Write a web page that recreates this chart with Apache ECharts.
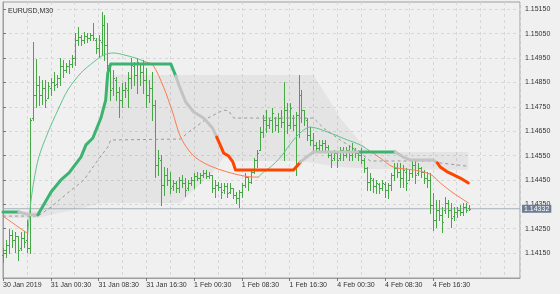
<!DOCTYPE html>
<html><head><meta charset="utf-8">
<script src="https://cdn.jsdelivr.net/npm/echarts@6/dist/echarts.min.js"></script>
<style>html,body{margin:0;padding:0;background:#f0f0f0;}#c{width:560px;height:294px;}</style>
</head><body><div id="c"></div>
<script>
// ---------- data ----------
const symbolLabel = 'EURUSD,M30';
const timeLabelBars = [0, 16, 32, 48, 64, 80, 96, 112, 128, 144];
const timeLabels = ['30 Jan 2019', '31 Jan 00:30', '31 Jan 08:30', '31 Jan 16:30', '1 Feb 00:30',
  '1 Feb 08:30', '1 Feb 16:30', '4 Feb 00:30', '4 Feb 08:30', '4 Feb 16:30'];
const priceTicks = [1.14150, 1.14250, 1.14350, 1.14450, 1.14550, 1.14650, 1.14750, 1.14850, 1.14950, 1.15050, 1.15150];
const lastPrice = 1.14332;

const high = [
  1.14171,1.14204,1.14249,1.14245,1.14237,1.14220,1.14237,1.14241,1.14286,1.14704,
  1.15016,1.14946,1.14876,1.14860,1.14860,1.14852,1.14868,1.14893,1.14881,1.14950,
  1.14942,1.14930,1.14942,1.14963,1.15053,1.15077,1.15045,1.15057,1.15053,1.15053,
  1.15094,1.15032,1.15045,1.15139,1.15127,1.15094,1.14930,1.14901,1.14872,1.14831,
  1.14848,1.14852,1.14893,1.14950,1.14934,1.14950,1.14930,1.14942,1.14909,1.14860,
  1.14893,1.14778,1.14573,1.14553,1.14503,1.14499,1.14483,1.14450,1.14446,1.14462,
  1.14471,1.14458,1.14450,1.14462,1.14479,1.14483,1.14479,1.14491,1.14491,1.14483,
  1.14471,1.14450,1.14442,1.14438,1.14438,1.14438,1.14438,1.14417,1.14401,1.14409,
  1.14438,1.14479,1.14462,1.14491,1.14540,1.14573,1.14667,1.14717,1.14737,1.14704,
  1.14745,1.14708,1.14725,1.14737,1.14852,1.14766,1.14766,1.14717,1.14729,1.14881,
  1.14819,1.14737,1.14704,1.14667,1.14643,1.14606,1.14614,1.14614,1.14614,1.14594,
  1.14561,1.14573,1.14561,1.14585,1.14585,1.14585,1.14594,1.14602,1.14581,1.14573,
  1.14581,1.14540,1.14503,1.14479,1.14458,1.14450,1.14438,1.14450,1.14442,1.14438,
  1.14479,1.14520,1.14520,1.14520,1.14512,1.14499,1.14491,1.14532,1.14532,1.14520,
  1.14503,1.14491,1.14483,1.14479,1.14397,1.14368,1.14368,1.14339,1.14380,1.14368,
  1.14356,1.14339,1.14339,1.14348,1.14356,1.14356,1.14348];
const low = [
  1.14114,1.14134,1.14151,1.14175,1.14155,1.14122,1.14163,1.14175,1.14155,1.14151,
  1.14696,1.14749,1.14758,1.14762,1.14749,1.14786,1.14799,1.14819,1.14831,1.14840,
  1.14872,1.14893,1.14889,1.14913,1.14922,1.15004,1.15004,1.15012,1.15016,1.15024,
  1.15024,1.14971,1.14954,1.14963,1.14942,1.14889,1.14778,1.14799,1.14778,1.14708,
  1.14749,1.14790,1.14749,1.14827,1.14840,1.14807,1.14840,1.14807,1.14749,1.14770,
  1.14696,1.14462,1.14471,1.14348,1.14389,1.14430,1.14397,1.14409,1.14401,1.14401,
  1.14421,1.14384,1.14409,1.14430,1.14417,1.14450,1.14438,1.14462,1.14458,1.14458,
  1.14401,1.14380,1.14409,1.14376,1.14397,1.14380,1.14397,1.14376,1.14356,1.14339,
  1.14380,1.14421,1.14409,1.14438,1.14479,1.14503,1.14573,1.14626,1.14647,1.14663,
  1.14647,1.14655,1.14647,1.14667,1.14532,1.14643,1.14663,1.14655,1.14471,1.14626,
  1.14688,1.14676,1.14614,1.14594,1.14561,1.14573,1.14565,1.14573,1.14573,1.14544,
  1.14503,1.14532,1.14503,1.14532,1.14532,1.14544,1.14532,1.14532,1.14544,1.14532,
  1.14520,1.14483,1.14409,1.14409,1.14401,1.14397,1.14397,1.14409,1.14380,1.14376,
  1.14409,1.14450,1.14462,1.14421,1.14421,1.14409,1.14450,1.14462,1.14438,1.14471,
  1.14462,1.14438,1.14421,1.14315,1.14245,1.14257,1.14286,1.14237,1.14315,1.14298,
  1.14257,1.14286,1.14298,1.14307,1.14307,1.14319,1.14327];
const open = [
  1.14143,1.14163,1.14184,1.14225,1.14204,1.14220,1.14171,1.14212,1.14204,1.14171,
  1.14704,1.14799,1.14840,1.14799,1.14827,1.14786,1.14827,1.14852,1.14844,1.14868,
  1.14917,1.14901,1.14917,1.14926,1.14950,1.15024,1.15036,1.15024,1.15040,1.15032,
  1.15045,1.15024,1.14991,1.15016,1.15086,1.15004,1.14922,1.14827,1.14860,1.14811,
  1.14778,1.14819,1.14819,1.14868,1.14917,1.14881,1.14926,1.14893,1.14860,1.14799,
  1.14827,1.14758,1.14512,1.14532,1.14430,1.14471,1.14450,1.14425,1.14438,1.14417,
  1.14450,1.14438,1.14417,1.14438,1.14450,1.14466,1.14458,1.14471,1.14479,1.14466,
  1.14471,1.14417,1.14430,1.14421,1.14409,1.14425,1.14401,1.14417,1.14389,1.14376,
  1.14401,1.14430,1.14462,1.14442,1.14483,1.14532,1.14573,1.14647,1.14696,1.14676,
  1.14696,1.14704,1.14676,1.14704,1.14688,1.14737,1.14676,1.14704,1.14676,1.14717,
  1.14799,1.14737,1.14696,1.14635,1.14614,1.14594,1.14581,1.14594,1.14602,1.14585,
  1.14553,1.14540,1.14561,1.14540,1.14573,1.14553,1.14573,1.14553,1.14573,1.14561,
  1.14553,1.14532,1.14499,1.14442,1.14450,1.14425,1.14434,1.14417,1.14434,1.14409,
  1.14430,1.14471,1.14499,1.14483,1.14458,1.14483,1.14450,1.14479,1.14512,1.14479,
  1.14499,1.14483,1.14458,1.14450,1.14348,1.14286,1.14327,1.14307,1.14327,1.14356,
  1.14327,1.14302,1.14319,1.14327,1.14319,1.14339,1.14335];
const close = [
  1.14163,1.14184,1.14225,1.14204,1.14220,1.14163,1.14212,1.14196,1.14171,1.14696,
  1.14799,1.14840,1.14799,1.14827,1.14778,1.14835,1.14852,1.14840,1.14868,1.14917,
  1.14901,1.14917,1.14926,1.14950,1.15024,1.15036,1.15024,1.15040,1.15032,1.15045,
  1.15032,1.14991,1.15024,1.15086,1.15004,1.14922,1.14819,1.14868,1.14811,1.14778,
  1.14819,1.14827,1.14868,1.14922,1.14881,1.14934,1.14893,1.14860,1.14799,1.14827,
  1.14758,1.14512,1.14540,1.14430,1.14471,1.14450,1.14417,1.14438,1.14417,1.14450,
  1.14438,1.14409,1.14438,1.14450,1.14466,1.14458,1.14471,1.14479,1.14466,1.14471,
  1.14417,1.14430,1.14421,1.14401,1.14425,1.14397,1.14417,1.14389,1.14376,1.14401,
  1.14430,1.14462,1.14442,1.14483,1.14532,1.14561,1.14647,1.14696,1.14676,1.14696,
  1.14725,1.14676,1.14704,1.14688,1.14737,1.14676,1.14745,1.14676,1.14717,1.14799,
  1.14737,1.14704,1.14635,1.14614,1.14594,1.14581,1.14594,1.14602,1.14585,1.14553,
  1.14532,1.14561,1.14532,1.14573,1.14553,1.14573,1.14553,1.14581,1.14561,1.14553,
  1.14532,1.14499,1.14442,1.14458,1.14425,1.14438,1.14417,1.14438,1.14409,1.14430,
  1.14471,1.14499,1.14483,1.14458,1.14491,1.14438,1.14479,1.14512,1.14471,1.14499,
  1.14483,1.14458,1.14450,1.14348,1.14286,1.14327,1.14307,1.14278,1.14356,1.14327,
  1.14294,1.14319,1.14327,1.14319,1.14339,1.14327,1.14332];

// thin moving average: [bar, price] pieces, falling (orange) / rising (green)
const maFalling1 = [[0,1.14302],[7.5,1.14237],[8.3,1.14233]];
const maRising1 = [[8.3,1.14233],[9.4,1.14368],[10.4,1.14450],[12,1.14544],[15,1.14643],[18.4,1.14737],
  [21.7,1.14819],[26.1,1.14889],[30.4,1.14934],[33.8,1.14963],[37.1,1.14971],[40.5,1.14963],[44.5,1.14950],[47.8,1.14934]];
const maFalling2 = [[47.8,1.14934],[50.2,1.14922],[53.8,1.14831],[56.9,1.14725],[59.5,1.14626],[63.5,1.14553],
  [68.6,1.14512],[76.3,1.14479],[83.9,1.14462],[85.6,1.14462]];
const maRising2 = [[85.6,1.14462],[87.3,1.14483],[89.6,1.14503],[93,1.14544],[97.3,1.14614],[100.7,1.14655],
  [103,1.14667],[108.7,1.14647],[115.4,1.14614],[119.7,1.14594],[122.4,1.14573]];
const maFalling3 = [[122.4,1.14573],[126.4,1.14540],[130.8,1.14503],[137.5,1.14491],[142.1,1.14479],
  [144.1,1.14466],[146.5,1.14438],[150.8,1.14397],[155.9,1.14356]];

// thick trend line pieces
const trendUp1 = [[0,1.14319],[5.3,1.14319]];
const trendFlat1 = [[5.3,1.14319],[8.7,1.14307],[11.7,1.14307]];
const trendUp2 = [[11.7,1.14307],[16.1,1.14401],[19.4,1.14450],[22.1,1.14479],[26.1,1.14544],[27.8,1.14594],
  [30.1,1.14622],[32.8,1.14704],[34.4,1.14778],[35.1,1.14889],[36.1,1.14926],[56.2,1.14926],[57.9,1.14876]];
const trendFlat2 = [[57.9,1.14876],[58.9,1.14840],[61.2,1.14770],[63.9,1.14729],[67.2,1.14704],[70.2,1.14663],[71.6,1.14626]];
const trendDown1 = [[71.6,1.14626],[72.9,1.14590],[73.9,1.14561],[75.6,1.14548],[77,1.14524],[77.9,1.14491],
  [97.3,1.14491],[99.7,1.14524]];
const trendFlat3 = [[99.7,1.14524],[101.3,1.14540],[104,1.14565],[119.7,1.14565]];
const trendUp3 = [[119.7,1.14565],[131.4,1.14565]];
const trendFlat4 = [[131.4,1.14565],[134.1,1.14544],[136.4,1.14532],[144.1,1.14532],[145.5,1.14520]];
const trendDown2 = [[145.5,1.14520],[146.5,1.14503],[148.9,1.14483],[153.2,1.14458],[155.9,1.14438]];

// channel midline (dashed) and channel shading bounds
const channelMid = [[0,1.14302],[11.7,1.14302],[16.1,1.14339],[21.7,1.14397],[27.1,1.14450],[31.8,1.14532],
  [35.1,1.14585],[36.1,1.14614],[59.5,1.14618],[62.2,1.14647],[68.6,1.14704],[73.9,1.14737],[75.6,1.14733],
  [77.3,1.14704],[104,1.14704],[107.4,1.14663],[113,1.14614],[119.7,1.14561],[123,1.14528],[144.1,1.14528],
  [146.4,1.14520],[155.5,1.14507]];
const channelUpper = [[0,1.14323],[11.7,1.14323],[16.1,1.14397],[19.4,1.14446],[22.1,1.14475],[26.1,1.14540],
  [27.8,1.14590],[30.1,1.14618],[32.8,1.14700],[34.4,1.14774],[35.1,1.14860],[36.8,1.14881],[104,1.14881],
  [108.7,1.14790],[113,1.14704],[119.7,1.14606],[123,1.14565],[155.9,1.14565]];
const channelLower = [[0,1.14294],[11.7,1.14294],[16.1,1.14307],[27.1,1.14335],[32.8,1.14356],[59.5,1.14356],
  [63.9,1.14409],[69.6,1.14471],[73.9,1.14540],[75.6,1.14544],[77.9,1.14528],[99.7,1.14528],[104,1.14520],
  [113,1.14503],[123,1.14495],[155.9,1.14491]];

// ---------- chart ----------
const X_MIN = 0, X_MAX = 173.2;
const FONT = 'Liberation Sans';
const BAR_COLOR = '#45a845';
const GREEN = '#3cb371', GRAY = '#c3c3c3', RED = '#ff4500';
const THIN_GREEN = '#5cc58a', THIN_RED = '#ff7a4d';

const ohlc = high.map((h, k) => [k, open[k], h, low[k], close[k]]);

function renderBar(params, api) {
  const i = api.value(0);
  const pO = api.coord([i, api.value(1)]);
  const pH = api.coord([i, api.value(2)]);
  const pL = api.coord([i, api.value(3)]);
  const pC = api.coord([i, api.value(4)]);
  const X = Math.round(pH[0]);
  const st = { stroke: BAR_COLOR, lineWidth: 1 };
  const yo = Math.round(pO[1]) + 0.5, yc = Math.round(pC[1]) + 0.5;
  return { type: 'group', children: [
    { type: 'line', shape: { x1: X + 0.5, y1: Math.round(pH[1]), x2: X + 0.5, y2: Math.round(pL[1]) + 1 }, style: st },
    { type: 'line', shape: { x1: X - 1, y1: yo, x2: X, y2: yo }, style: st },
    { type: 'line', shape: { x1: X + 1, y1: yc, x2: X + 2, y2: yc }, style: st }
  ]};
}

function renderBand(params, api) {
  const pts = channelUpper.map(p => api.coord(p)).concat(channelLower.slice().reverse().map(p => api.coord(p)));
  return { type: 'polygon', shape: { points: pts }, style: { fill: 'rgba(0,0,0,0.048)' } };
}

function lineSeries(data, color, width, z, extra) {
  return Object.assign({
    type: 'line', data: data, showSymbol: false, symbol: 'none', silent: true, z: z,
    lineStyle: { color: color, width: width, cap: 'round', join: 'round' }
  }, extra || {});
}

const series = [
  { type: 'custom', renderItem: renderBand, data: [[0, 1.145]], z: 1, silent: true },
  // current price line with its value box at the right end
  { type: 'line', data: [[X_MIN, lastPrice], [X_MAX, lastPrice]], showSymbol: false, symbol: 'none',
    silent: true, z: 4, clip: false, animation: false,
    lineStyle: { color: '#a7afb8', width: 1 },
    endLabel: { show: true, formatter: lastPrice.toFixed(5), distance: 2,
      backgroundColor: '#6c7c92', color: '#ffffff', fontSize: 7, fontFamily: FONT, padding: [1, 2, 0, 2] } },
  { type: 'custom', renderItem: renderBar, data: ohlc, z: 6, silent: true,
    encode: { x: 0, y: [1, 2, 3, 4] } },
  lineSeries(maFalling1, THIN_RED, 1, 7, { smooth: 0.3 }),
  lineSeries(maRising1, THIN_GREEN, 1, 7, { smooth: 0.3 }),
  lineSeries(maFalling2, THIN_RED, 1, 7, { smooth: 0.3 }),
  lineSeries(maRising2, THIN_GREEN, 1, 7, { smooth: 0.3 }),
  lineSeries(maFalling3, THIN_RED, 1, 7, { smooth: 0.3 }),
  Object.assign(lineSeries(channelMid, '#9a9a9a', 1, 7), {
    lineStyle: { color: '#9a9a9a', width: 1, type: [3, 3] } }),
  lineSeries(trendUp1, GREEN, 3, 8),
  lineSeries(trendFlat1, GRAY, 3, 8),
  lineSeries(trendUp2, GREEN, 3, 8),
  lineSeries(trendFlat2, GRAY, 3, 8),
  lineSeries(trendDown1, RED, 3, 8),
  lineSeries(trendFlat3, GRAY, 3, 8),
  lineSeries(trendUp3, GREEN, 3, 8),
  lineSeries(trendFlat4, GRAY, 3, 8),
  lineSeries(trendDown2, RED, 3, 8)
];

const chart = echarts.init(document.getElementById('c'), null, { renderer: 'canvas' });
chart.setOption({
  backgroundColor: '#f0f0f0',
  animation: false,
  textStyle: { fontFamily: FONT },
  title: { text: symbolLabel, left: 3, top: 3,
    textStyle: { fontSize: 7, fontWeight: 'normal', color: '#333', fontFamily: FONT } },
  grid: { left: 2, right: 40, top: 2, bottom: 16, show: true, borderColor: '#9f9f9f', borderWidth: 1,
    backgroundColor: 'transparent' },
  xAxis: [
    { type: 'value', min: X_MIN, max: X_MAX, interval: 8,
      axisLine: { show: false }, axisTick: { show: false }, axisLabel: { show: false },
      splitLine: { show: true, lineStyle: { color: '#d7d7d7', width: 1, type: [3, 3] } } },
    { type: 'value', min: X_MIN, max: X_MAX, position: 'bottom',
      axisLine: { show: true, lineStyle: { color: '#9f9f9f' } },
      axisTick: { show: true, customValues: timeLabelBars, length: 3, lineStyle: { color: '#777' } },
      axisLabel: { show: true, customValues: timeLabelBars, align: 'left', fontSize: 7, color: '#333',
        margin: 4, fontFamily: FONT,
        formatter: v => { const k = timeLabelBars.indexOf(Math.round(v)); return k >= 0 ? timeLabels[k] : ''; } },
      splitLine: { show: false } }
  ],
  yAxis: { type: 'value', position: 'right', min: 1.14048, max: 1.15180,
    axisLine: { show: true, lineStyle: { color: '#9f9f9f' } },
    axisTick: { show: true, customValues: priceTicks, length: 3, lineStyle: { color: '#777' } },
    axisLabel: { customValues: priceTicks, fontSize: 7, color: '#333', margin: 5, fontFamily: FONT,
      formatter: v => v.toFixed(5) },
    splitLine: { show: true, lineStyle: { color: '#d7d7d7', width: 1, type: [3, 3] } } },
  series: series
});
</script>
</body></html>
